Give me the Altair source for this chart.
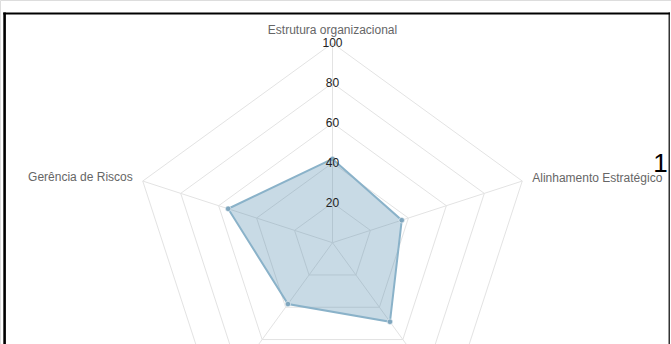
import altair as alt
import pandas as pd
import numpy as np

# ---- data ----
categories = ["Estrutura organizacional", "Alinhamento Estratégico", "Processos",
              "Pessoas", "Gerência de Riscos"]
values = [42, 36.5, 49, 38, 55]
ticks = [20, 40, 60, 80, 100]
tick_labels = ["20", "40", "60", "80", "100"]
r_max = 100
corner_note = "1"

n = len(categories)
ang = np.pi / 2 - 2 * np.pi * np.arange(n) / n

grid = pd.DataFrame([
    {"level": t, "order": i, "x": t * np.cos(ang[i]), "y": t * np.sin(ang[i])}
    for t in ticks for i in range(n)
])
spokes = pd.DataFrame({
    "i": range(n), "x0": 0.0, "y0": 0.0,
    "x": r_max * np.cos(ang), "y": r_max * np.sin(ang),
})
series = pd.DataFrame({
    "cat": categories, "value": values, "order": range(n),
    "x": np.array(values) * np.cos(ang), "y": np.array(values) * np.sin(ang),
})
labels = pd.DataFrame({
    "cat": categories, "i": range(n),
    "x": r_max * np.cos(ang), "y": r_max * np.sin(ang),
})
tickdf = pd.DataFrame({"t": ticks, "label": tick_labels, "x": 0.0, "y": ticks})

# ---- scales (px per unit ~1.995, center at (332.5, 242.7)) ----
W, H = 671, 344
k = 1.995
cx, cy = 332.5, 242.7
xs = alt.Scale(domain=[-cx / k, (W - cx) / k], nice=False, zero=False)
ys = alt.Scale(domain=[-(H - cy) / k, cy / k], nice=False, zero=False)
X = lambda f="x": alt.X(f"{f}:Q", scale=xs, axis=None)
Y = lambda f="y": alt.Y(f"{f}:Q", scale=ys, axis=None)

FONT = "Liberation Sans"

grid_layer = alt.Chart(grid).mark_line(
    interpolate="linear-closed", stroke="#e3e3e3", strokeWidth=1, clip=True
).encode(x=X(), y=Y(), detail="level:N", order="order:Q")

spoke_layer = alt.Chart(spokes).mark_rule(
    stroke="#e3e3e3", strokeWidth=1, clip=True
).encode(x=X("x0"), y=Y("y0"), x2="x:Q", y2="y:Q")

area_layer = alt.Chart(series).mark_line(
    interpolate="linear-closed", fill="#4a86a8", fillOpacity=0.3,
    stroke="#8ab2c9", strokeWidth=2, clip=True
).encode(x=X(), y=Y(), order="order:Q")

pts_layer = alt.Chart(series).mark_circle(
    size=30, color="#7fa6be", opacity=1, stroke="#ffffff", strokeWidth=0.5, clip=True
).encode(x=X(), y=Y())

tick_layer = alt.Chart(tickdf).mark_text(
    font=FONT, fontSize=12, color="#222222", align="center", baseline="middle"
).encode(x=X(), y=Y(), text="label:N")

# only the labels that fall inside the visible area (the bottom two lie below the frame)
lab_common = dict(font=FONT, fontSize=12, color="#666666", baseline="middle", clip=True)
lab_top = alt.Chart(labels).transform_filter("datum.i == 0").mark_text(
    align="center", dy=-13, **lab_common).encode(x=X(), y=Y(), text="cat:N")
lab_right = alt.Chart(labels).transform_filter("datum.i == 1").mark_text(
    align="left", dx=10, dy=-3, **lab_common).encode(x=X(), y=Y(), text="cat:N")
lab_left = alt.Chart(labels).transform_filter("datum.i == 4").mark_text(
    align="right", dx=-10, dy=-4, **lab_common).encode(x=X(), y=Y(), text="cat:N")

note = alt.Chart(pd.DataFrame({"t": [corner_note]})).mark_text(
    font=FONT, fontSize=26, color="#000000", align="center", baseline="alphabetic"
).encode(x=alt.value(660.5), y=alt.value(171.5), text="t:N")

frame_left = alt.Chart(pd.DataFrame({"a": [0]})).mark_rule(
    stroke="#000000", strokeWidth=2.6).encode(
    x=alt.value(4.6), y=alt.value(12.6), y2=alt.value(H))
frame_top = alt.Chart(pd.DataFrame({"a": [0]})).mark_rule(
    stroke="#000000", strokeWidth=1.8).encode(
    x=alt.value(3.3), x2=alt.value(670), y=alt.value(13.5))
frame_right = alt.Chart(pd.DataFrame({"a": [0]})).mark_rule(
    stroke="#000000", strokeWidth=1.2).encode(
    x=alt.value(669.2), y=alt.value(12.6), y2=alt.value(H))

chart = alt.layer(
    grid_layer, spoke_layer, area_layer, pts_layer, tick_layer,
    lab_top, lab_right, lab_left, note,
    frame_left, frame_top, frame_right
).properties(
    width=W, height=H, padding=0, autosize=alt.AutoSizeParams(type="none")
).configure_view(stroke=None).configure(background="#ffffff")

chart.save("out.html", embed_options={"renderer": "svg", "actions": False})
